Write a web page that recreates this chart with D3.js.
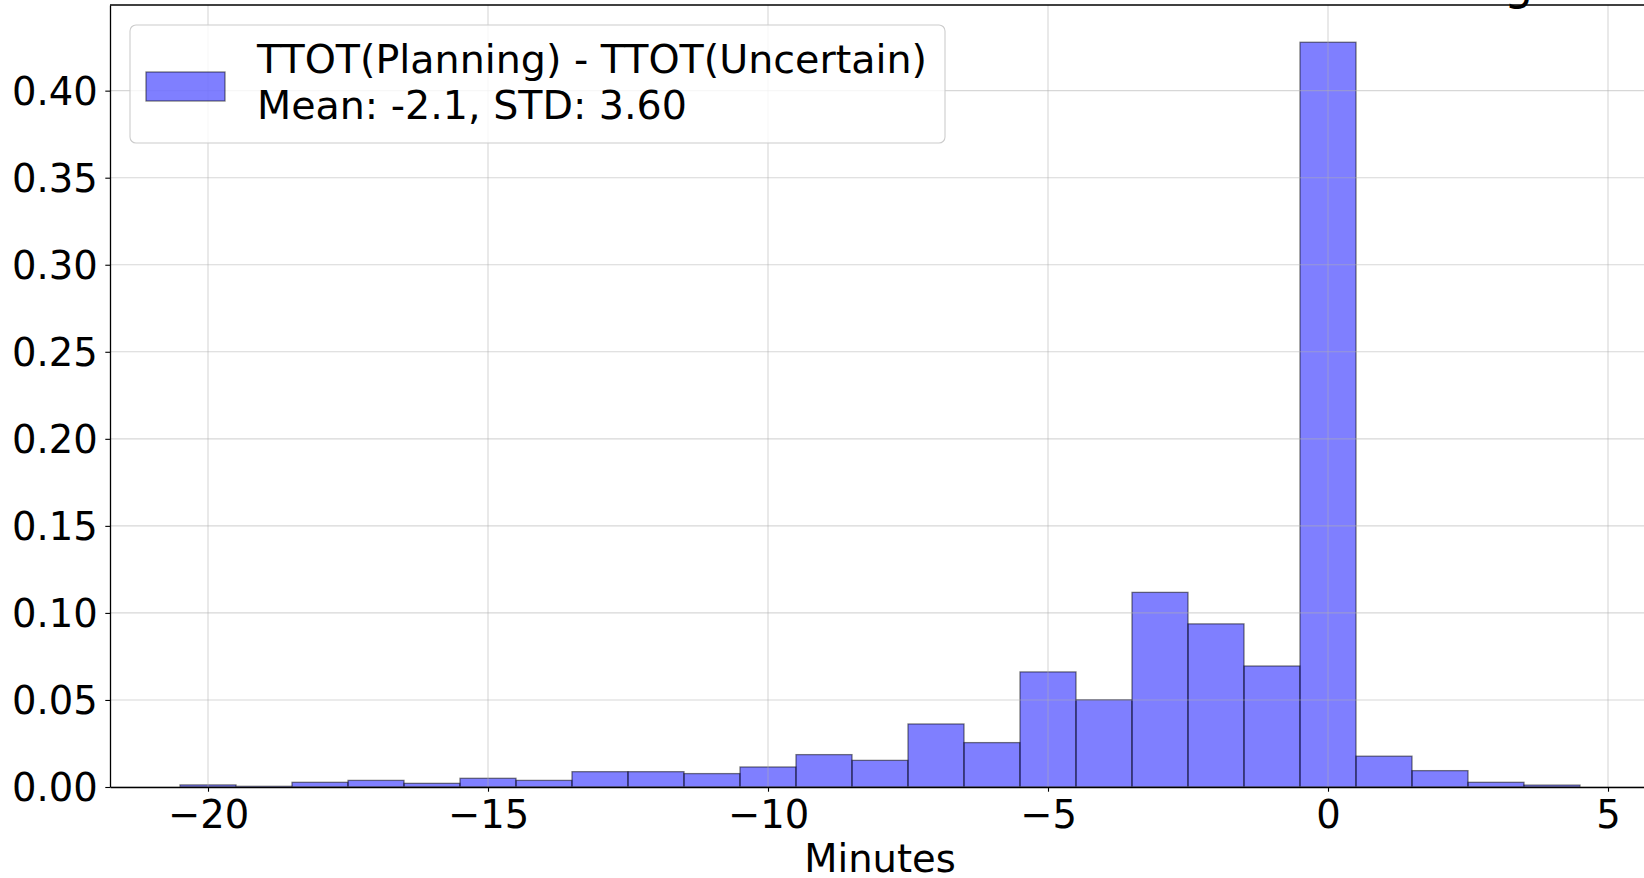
<!DOCTYPE html>
<html>
<head>
<meta charset="utf-8">
<script src="https://cdn.jsdelivr.net/npm/d3@7"></script>
<style>
  html, body { margin: 0; padding: 0; background: #ffffff; overflow: hidden; }
  svg { display: block; font-family: "DejaVu Sans", sans-serif; }
</style>
</head>
<body>
<svg id="chart" width="1644" height="878"></svg>
<script>
// Histogram bins (1-minute wide, centred on whole minutes) and their densities
const binCenters = [-20, -19, -18, -17, -16, -15, -14, -13, -12, -11, -10, -9, -8,
                    -7, -6, -5, -4, -3, -2, -1, 0, 1, 2, 3, 4];
const densities = [0.0012, 0.0004, 0.0027, 0.0038, 0.0021, 0.0050, 0.0038, 0.0088,
                   0.0088, 0.0077, 0.0115, 0.0186, 0.0153, 0.0362, 0.0255, 0.0661,
                   0.0501, 0.1118, 0.0937, 0.0695, 0.4278, 0.0177, 0.0094, 0.0027,
                   0.0011];
const binWidth = 1;
const xTicks = [-20, -15, -10, -5, 0, 5];
const yTicks = [0, 0.05, 0.10, 0.15, 0.20, 0.25, 0.30, 0.35, 0.40];
const legendLines = ["TTOT(Planning) - TTOT(Uncertain)", "Mean: -2.1, STD: 3.60"];
const xLabel = "Minutes";

const svg = d3.select("#chart");
const fontSize = 38.5;
const legendFontSize = 39.6;

const plot = { left: 110, right: 1650, top: 5, bottom: 787 };

const x = d3.scaleLinear().domain([-21.75, 5.75]).range([plot.left, plot.right]);
const y = d3.scaleLinear().domain([0, 0.4492]).range([plot.bottom, plot.top]);

// Bars
svg.append("g")
  .selectAll("rect")
  .data(binCenters.map((c, i) => ({ c, v: densities[i] })))
  .join("rect")
  .attr("x", d => x(d.c - binWidth / 2))
  .attr("width", d => x(d.c + binWidth / 2) - x(d.c - binWidth / 2))
  .attr("y", d => y(d.v))
  .attr("height", d => y(0) - y(d.v))
  .attr("fill", "blue")
  .attr("fill-opacity", 0.5)
  .attr("stroke", "black")
  .attr("stroke-opacity", 0.5)
  .attr("stroke-width", 1.3);

// Grid lines drawn over the translucent bars
const grid = svg.append("g")
  .attr("stroke", "#b0b0b0")
  .attr("stroke-opacity", 0.5)
  .attr("stroke-width", 1.1);
grid.selectAll("line.gx").data(xTicks).join("line")
  .attr("class", "gx")
  .attr("x1", d => x(d)).attr("x2", d => x(d))
  .attr("y1", plot.top).attr("y2", plot.bottom);
grid.selectAll("line.gy").data(yTicks).join("line")
  .attr("class", "gy")
  .attr("x1", plot.left).attr("x2", plot.right)
  .attr("y1", d => y(d)).attr("y2", d => y(d));

// Axes
const xAxis = svg.append("g")
  .attr("transform", `translate(0,${plot.bottom})`)
  .call(d3.axisBottom(x).tickValues(xTicks).tickSize(4.7).tickPadding(0).tickSizeOuter(0));
const yAxis = svg.append("g")
  .attr("transform", `translate(${plot.left},0)`)
  .call(d3.axisLeft(y).tickValues(yTicks).tickFormat(d3.format(".2f")).tickSize(4.7).tickSizeOuter(0));

[xAxis, yAxis].forEach(a => {
  a.select(".domain").attr("stroke", "#000").attr("stroke-width", 1.3);
  a.selectAll(".tick line").attr("stroke", "#000").attr("stroke-width", 1.1);
  a.selectAll(".tick text")
    .attr("fill", "#000")
    .style("font-family", "DejaVu Sans")
    .style("font-size", fontSize + "px");
});
xAxis.selectAll(".tick text").attr("y", 41).attr("dy", "0");
yAxis.selectAll(".tick text").attr("x", -12.3).attr("dy", "0.36em");

// Top spine
svg.append("line")
  .attr("x1", plot.left).attr("x2", plot.right)
  .attr("y1", plot.top).attr("y2", plot.top)
  .attr("stroke", "#000").attr("stroke-width", 1.3);

// Axis label
svg.append("text")
  .attr("x", (plot.left + plot.right) / 2)
  .attr("y", 872)
  .attr("text-anchor", "middle")
  .style("font-size", fontSize + "px")
  .text(xLabel);

// Title descender peeking in at the top edge
svg.append("text")
  .attr("x", 1504)
  .attr("y", -1)
  .style("font-size", "46px")
  .text("g");

// Legend
const legend = svg.append("g");
legend.append("rect")
  .attr("x", 130).attr("y", 25).attr("width", 815).attr("height", 118)
  .attr("rx", 6).attr("ry", 6)
  .attr("fill", "#fff").attr("fill-opacity", 0.8)
  .attr("stroke", "#cccccc").attr("stroke-width", 1.1);
legend.append("rect")
  .attr("x", 146).attr("y", 72).attr("width", 79).attr("height", 29)
  .attr("fill", "blue").attr("fill-opacity", 0.5)
  .attr("stroke", "black").attr("stroke-opacity", 0.5).attr("stroke-width", 1.3);
legend.selectAll("text.lg").data(legendLines).join("text")
  .attr("class", "lg")
  .attr("x", 257)
  .attr("y", (d, i) => 73 + i * 46)
  .style("font-size", legendFontSize + "px")
  .text(d => d);
</script>
</body>
</html>
